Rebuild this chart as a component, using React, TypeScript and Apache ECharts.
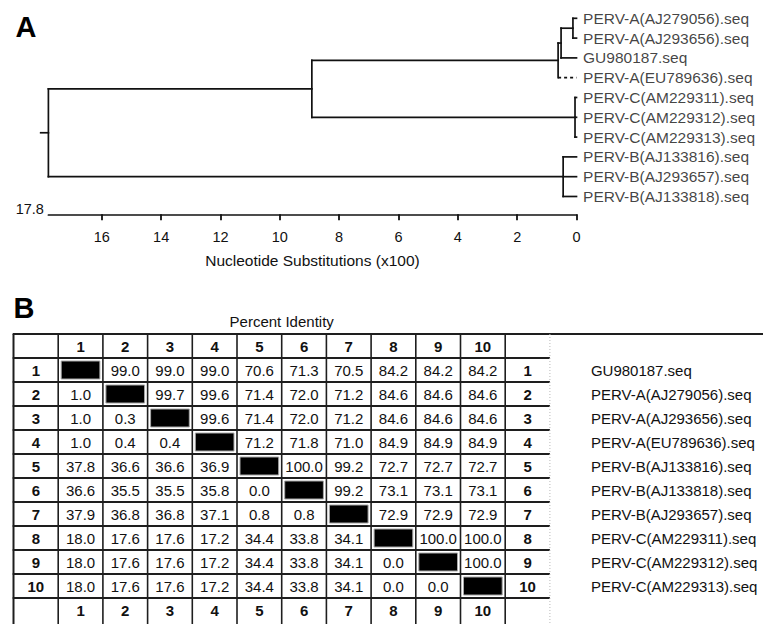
import React, { useEffect, useRef } from "react";
import * as echarts from "echarts";

const FONT = "'Liberation Sans', Arial, Helvetica, sans-serif";
const INK = "#111111";

// ---------- Panel A: dendrogram ----------
const leafNames = [
  "PERV-A(AJ279056).seq",
  "PERV-A(AJ293656).seq",
  "GU980187.seq",
  "PERV-A(EU789636).seq",
  "PERV-C(AM229311).seq",
  "PERV-C(AM229312).seq",
  "PERV-C(AM229313).seq",
  "PERV-B(AJ133816).seq",
  "PERV-B(AJ293657).seq",
  "PERV-B(AJ133818).seq",
];
const nodeIds = ["Z", "Y", "X", "C", "B", "AC", "root"];
const nodeChildren = [
  ["L0", "L1"],
  ["Z", "L2"],
  ["Y", "L3"],
  ["L4", "L5", "L6"],
  ["L7", "L8", "L9"],
  ["X", "C"],
  ["AC", "B"],
];
const nodeHeights = [0.12, 0.52, 0.62, 0.05, 0.45, 8.92, 17.8];
const dashedBranches = ["L3"];
const scaleTicks = [0, 2, 4, 6, 8, 10, 12, 14, 16];
const ROOT_HEIGHT = 17.8;
const rootDepthLabel = "17.8";
const ROOT_STUB = 0.26;
const axisTitle = "Nucleotide Substitutions (x100)";
const Y_MIN = -0.5;
const Y_MAX = 9.9;

// ---------- Panel B: percent identity / divergence table ----------
const tableSeqNames = [
  "GU980187.seq",
  "PERV-A(AJ279056).seq",
  "PERV-A(AJ293656).seq",
  "PERV-A(EU789636).seq",
  "PERV-B(AJ133816).seq",
  "PERV-B(AJ133818).seq",
  "PERV-B(AJ293657).seq",
  "PERV-C(AM229311).seq",
  "PERV-C(AM229312).seq",
  "PERV-C(AM229313).seq",
];
const colNumbers = ["1", "2", "3", "4", "5", "6", "7", "8", "9", "10"];
// upper triangle (row i, columns i+1..10)
const percentIdentity = [
  [99.0, 99.0, 99.0, 70.6, 71.3, 70.5, 84.2, 84.2, 84.2],
  [99.7, 99.6, 71.4, 72.0, 71.2, 84.6, 84.6, 84.6],
  [99.6, 71.4, 72.0, 71.2, 84.6, 84.6, 84.6],
  [71.2, 71.8, 71.0, 84.9, 84.9, 84.9],
  [100.0, 99.2, 72.7, 72.7, 72.7],
  [99.2, 73.1, 73.1, 73.1],
  [72.9, 72.9, 72.9],
  [100.0, 100.0],
  [100.0],
  [],
];
// lower triangle (row i, columns 1..i-1)
const divergence = [
  [],
  [1.0],
  [1.0, 0.3],
  [1.0, 0.4, 0.4],
  [37.8, 36.6, 36.6, 36.9],
  [36.6, 35.5, 35.5, 35.8, 0.0],
  [37.9, 36.8, 36.8, 37.1, 0.8, 0.8],
  [18.0, 17.6, 17.6, 17.2, 34.4, 33.8, 34.1],
  [18.0, 17.6, 17.6, 17.2, 34.4, 33.8, 34.1, 0.0],
  [18.0, 17.6, 17.6, 17.2, 34.4, 33.8, 34.1, 0.0, 0.0],
];
const tableTitle = "Percent Identity";

// ---------- derived structures ----------
function heightOf(id: string): number {
  return id.startsWith("L") ? 0 : nodeHeights[nodeIds.indexOf(id)];
}
function yOf(id: string): number {
  if (id.startsWith("L")) return Number(id.slice(1));
  const kids = nodeChildren[nodeIds.indexOf(id)];
  return (yOf(kids[0]) + yOf(kids[kids.length - 1])) / 2;
}
const treeSegments: number[][] = [];
nodeIds.forEach((id, k) => {
  const h = nodeHeights[k];
  const kids = nodeChildren[k];
  treeSegments.push([h, yOf(kids[0]), h, yOf(kids[kids.length - 1]), 0]);
  kids.forEach((kid) => {
    treeSegments.push([h, yOf(kid), heightOf(kid), yOf(kid), dashedBranches.includes(kid) ? 1 : 0]);
  });
});
treeSegments.push([ROOT_HEIGHT, yOf("root"), ROOT_HEIGHT + ROOT_STUB, yOf("root"), 0]);

type Cell = { col: number; row: number; text: string; kind: "bold" | "val" | "diag" | "empty" };
const NCOL = 12;
const NROW = 12;
const cells: Cell[] = [];
for (let r = 0; r < NROW; r++) {
  for (let c = 0; c < NCOL; c++) {
    let cell: Cell = { col: c, row: r, text: "", kind: "empty" };
    if (r === 0 || r === NROW - 1) {
      if (c >= 1 && c <= 10) cell = { col: c, row: r, text: colNumbers[c - 1], kind: "bold" };
    } else {
      if (c === 0 || c === NCOL - 1) cell = { col: c, row: r, text: colNumbers[r - 1], kind: "bold" };
      else if (c === r) cell = { col: c, row: r, text: "", kind: "diag" };
      else if (c > r) cell = { col: c, row: r, text: percentIdentity[r - 1][c - r - 1].toFixed(1), kind: "val" };
      else cell = { col: c, row: r, text: divergence[r - 1][c - 1].toFixed(1), kind: "val" };
    }
    cells.push(cell);
  }
}
const tableColKeys = ["rowhead", ...colNumbers, "rownum"];
const tableRowKeys = ["colhead", ...colNumbers, "colfoot"];
const tableNameLabels = ["", ...tableSeqNames, " "];

function buildOption(): any {
  return {
    animation: false,
    backgroundColor: "#ffffff",
    textStyle: { fontFamily: FONT, color: INK },
    grid: [
      { left: 48.4, right: 186.5, top: 8.4, height: 205.9 },
      { left: 13.5, top: 334, width: 536.4, height: 288 },
    ],
    xAxis: [
      {
        gridIndex: 0,
        type: "value",
        inverse: true,
        min: 0,
        max: ROOT_HEIGHT,
        position: "bottom",
        axisLine: { show: true, onZero: false, lineStyle: { color: INK, width: 1.7 } },
        axisTick: { show: true, customValues: scaleTicks, length: 6, lineStyle: { color: INK, width: 1.8 } },
        axisLabel: { show: true, customValues: scaleTicks, fontSize: 14.5, color: INK, margin: 15, fontFamily: FONT },
        splitLine: { show: false },
        name: axisTitle,
        nameLocation: "middle",
        nameGap: 38,
        nameTextStyle: { fontSize: 15.5, color: INK, fontFamily: FONT },
      },
      {
        gridIndex: 1,
        type: "category",
        position: "top",
        data: tableColKeys,
        axisLine: { show: false, onZero: false },
        axisTick: { show: false },
        axisLabel: { show: false },
        splitLine: { show: false },
        name: tableTitle,
        nameLocation: "middle",
        nameGap: 5,
        nameTextStyle: { fontSize: 15, color: INK, fontFamily: FONT },
      },
    ],
    yAxis: [
      { gridIndex: 0, type: "value", inverse: true, min: Y_MIN, max: Y_MAX, show: false },
      { gridIndex: 1, type: "category", inverse: true, data: tableRowKeys, show: false },
      {
        gridIndex: 1,
        type: "category",
        inverse: true,
        position: "right",
        data: tableNameLabels,
        axisLine: { show: false, onZero: false },
        axisTick: { show: false },
        splitLine: { show: false },
        axisLabel: { show: true, margin: 41, fontSize: 15, color: INK, fontFamily: FONT, interval: 0 },
      },
    ],
    series: [
      {
        type: "custom",
        name: "tree",
        xAxisIndex: 0,
        yAxisIndex: 0,
        silent: true,
        clip: false,
        data: treeSegments,
        renderItem: (_params: any, api: any) => {
          const p1 = api.coord([api.value(0), api.value(1)]);
          const p2 = api.coord([api.value(2), api.value(3)]);
          const dashed = api.value(4) === 1;
          return {
            type: "line",
            shape: { x1: p1[0], y1: p1[1], x2: p2[0], y2: p2[1] },
            style: {
              stroke: INK,
              lineWidth: 1.7,
              lineCap: dashed ? "butt" : "square",
              lineDash: dashed ? [3, 3] : null,
            },
          };
        },
      },
      {
        type: "scatter",
        name: "leaves",
        xAxisIndex: 0,
        yAxisIndex: 0,
        silent: true,
        symbolSize: 0.1,
        itemStyle: { color: "rgba(0,0,0,0)" },
        data: leafNames.map((_n, i) => [0, i]),
        label: {
          show: true,
          position: "right",
          distance: 6.5,
          formatter: (p: any) => leafNames[p.dataIndex],
          fontSize: 15.5,
          color: INK,
          fontFamily: FONT,
        },
      },
      {
        type: "custom",
        name: "table",
        xAxisIndex: 1,
        yAxisIndex: 1,
        silent: true,
        data: cells.map((c) => [c.col, c.row]),
        renderItem: (params: any, api: any) => {
          const cell = cells[params.dataIndex];
          const ctr = api.coord([api.value(0), api.value(1)]);
          const sz = api.size([1, 1]);
          const w = sz[0];
          const h = sz[1];
          const x0 = ctr[0] - w / 2;
          const y0 = ctr[1] - h / 2;
          const x1 = x0 + w;
          let y1 = y0 + h;
          if (cell.row === NROW - 1) y1 = api.getHeight();
          const children: any[] = [];
          const xEnd = cell.row === 0 && cell.col === NCOL - 1 ? api.getWidth() : x1;
          children.push({
            type: "line",
            shape: { x1: x0 - 0.8, y1: y0, x2: xEnd, y2: y0 },
            style: { stroke: "#1e1e1e", lineWidth: 2 },
          });
          children.push({
            type: "line",
            shape: { x1: x0, y1: y0, x2: x0, y2: y1 },
            style: { stroke: "#1e1e1e", lineWidth: cell.col === 0 ? 2 : 1.6 },
          });
          if (cell.col === NCOL - 1) {
            children.push({
              type: "line",
              shape: { x1: x1, y1: y0, x2: x1, y2: y1 },
              style: { stroke: "#b8b8b8", lineWidth: 1, lineDash: [1, 2] },
            });
          }
          if (cell.kind === "diag") {
            children.push({
              type: "rect",
              shape: { x: x0 + 3, y: y0 + 3, width: w - 6, height: h - 6 },
              style: { fill: "#000000", stroke: "#a8a8a8", lineWidth: 1 },
            });
          } else if (cell.text) {
            children.push({
              type: "text",
              x: ctr[0],
              y: ctr[1] + 0.5,
              style: {
                text: cell.text,
                align: "center",
                verticalAlign: "middle",
                fontSize: 15,
                fontWeight: cell.kind === "bold" ? "bold" : "normal",
                fontFamily: FONT,
                fill: INK,
              },
            });
          }
          return { type: "group", children };
        },
      },
    ],
  };
}

export default function App() {
  const ref = useRef<HTMLDivElement>(null);
  useEffect(() => {
    document.body.style.margin = "0";
    const chart = echarts.init(ref.current as HTMLDivElement, null, { renderer: "svg" });
    chart.setOption(buildOption());
    const rootPx = chart.convertToPixel({ gridIndex: 0 }, [ROOT_HEIGHT, Y_MAX]) as number[];
    chart.setOption({
      graphic: [
        {
          type: "text",
          id: "panelA",
          x: 15.5,
          y: 26.5,
          silent: true,
          style: {
            text: "A",
            fontSize: 29,
            fontWeight: "bold",
            fontFamily: FONT,
            fill: "#000",
            align: "left",
            verticalAlign: "middle",
          },
        },
        {
          type: "text",
          id: "panelB",
          x: 13.5,
          y: 308,
          silent: true,
          style: {
            text: "B",
            fontSize: 29,
            fontWeight: "bold",
            fontFamily: FONT,
            fill: "#000",
            align: "left",
            verticalAlign: "middle",
          },
        },
        {
          type: "text",
          id: "rootDepth",
          x: rootPx[0] - 4.5,
          y: rootPx[1] - 5,
          silent: true,
          style: {
            text: rootDepthLabel,
            fontSize: 14.5,
            fontFamily: FONT,
            fill: INK,
            align: "right",
            verticalAlign: "middle",
          },
        },
      ],
    });
    return () => {
      chart.dispose();
    };
  }, []);
  return (
    <div
      ref={ref}
      style={{ position: "fixed", left: 0, top: 0, width: 763, height: 624, background: "#fff" }}
    />
  );
}
